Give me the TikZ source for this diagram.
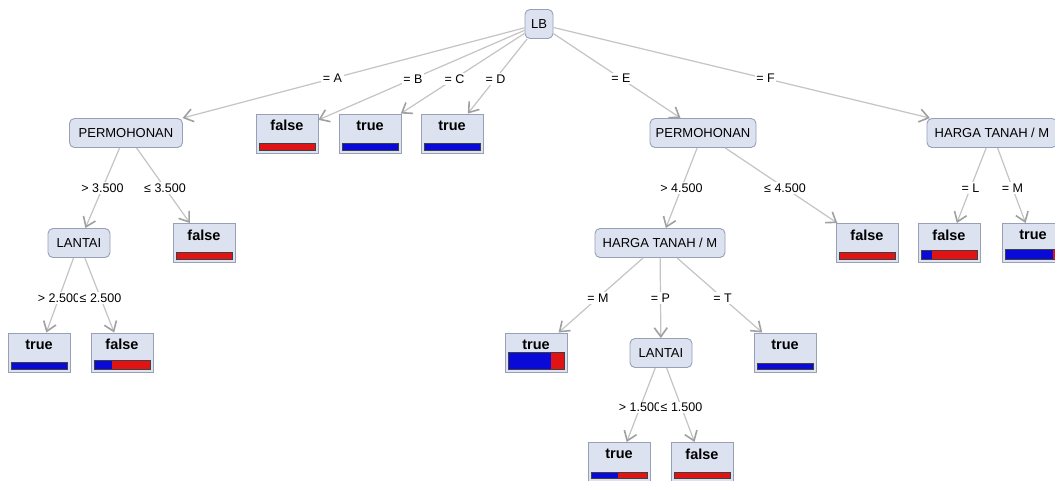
\documentclass[tikz,border=0pt]{standalone}
\usepackage{fontspec}
\setmainfont{Liberation Sans}
\usetikzlibrary{arrows.meta,calc}
\definecolor{nodefill}{HTML}{DDE2F0}
\definecolor{nodeborder}{HTML}{98A0B8}
\definecolor{edgecol}{HTML}{C4C4C4}
\definecolor{arrowcol}{HTML}{A0A0A0}
\definecolor{barblue}{HTML}{0A0AD8}
\definecolor{barred}{HTML}{E01414}
\tikzset{
  inner/.style={draw=nodeborder, fill=nodefill, rounded corners=5pt, line width=0.9pt,
    minimum height=29pt, inner xsep=2pt, font=\fontsize{13}{15}\selectfont},
  leafbox/.style={draw=nodeborder, fill=nodefill, line width=0.9pt,
    minimum width=62pt, minimum height=39pt},
  leaftext/.style={font=\bfseries\fontsize{14.5}{16}\selectfont, inner sep=0pt},
  edge/.style={draw=edgecol, line width=1.2pt,
    -{Straight Barb[length=9pt,width=13pt,line width=1.6pt,color=arrowcol]}},
  elabel/.style={fill=white, inner sep=1.5pt, font=\fontsize{12.5}{14}\selectfont}
}
% name, x, y, text, blue fraction, bar height
\newcommand\leafnode[6]{%
  \node[leafbox] (#1) at (#2,#3) {};
  \node[leaftext] (#1t) at (#2,#3-8) {#4};
  \fill[barblue] (#2-28,#3+16.5-#6) rectangle ({#2-28+56*#5},#3+16.5);
  \fill[barred] ({#2-28+56*#5},#3+16.5-#6) rectangle (#2+28,#3+16.5);
  \draw[black!75, line width=0.7pt] (#2-28,#3+16.5-#6) rectangle (#2+28,#3+16.5);
}
\newcommand\edgelab[3]{\node[elabel] at ($(#1)!0.5!(#2)$) {#3};}
\begin{document}
\begin{tikzpicture}[x=1pt,y=-1pt]
\useasboundingbox (0,0) rectangle (1055,481);
\clip (0,0) rectangle (1055,481);
\fill[white] (0,0) rectangle (1055,481);
% inner nodes
\node[inner, minimum width=28pt] (LB) at (539,24) {LB};
\node[inner, minimum width=113pt] (P1) at (126,133) {PERMOHONAN};
\node[inner, minimum width=106pt] (P2) at (703,133) {PERMOHONAN};
\node[inner, minimum width=130pt] (H3) at (992,133) {HARGA TANAH / M};
\node[inner, minimum width=62pt] (L1) at (79,243) {LANTAI};
\node[inner, minimum width=130pt] (H2) at (660,243) {HARGA TANAH / M};
\node[inner, minimum width=62pt] (L2) at (661,353) {LANTAI};
% leaves
\leafnode{fB}{287}{133.5}{false}{0}{7}
\leafnode{tC}{370}{133.5}{true}{1}{7}
\leafnode{tD}{452}{133.5}{true}{1}{7}
\leafnode{fP1}{204}{243}{false}{0}{7}
\leafnode{tL1}{39}{352.5}{true}{1}{6.7}
\leafnode{fL1}{122}{352.5}{false}{0.32}{8.3}
\leafnode{fP2}{867}{243}{false}{0}{7}
\leafnode{fH3}{949}{243}{false}{0.19}{9}
\leafnode{tH3}{1033}{243}{true}{0.85}{10}
\leafnode{tH2M}{536}{352.5}{true}{0.77}{16.5}
\leafnode{tH2T}{785}{352.5}{true}{1}{6}
\leafnode{tL2}{619}{462}{true}{0.48}{6}
\leafnode{fL2}{702}{462}{false}{0}{6}
% edges
\draw[edge] (LB) -- (P1);
\draw[edge] (LB) -- (fB);
\draw[edge] (LB) -- (tC);
\draw[edge] (LB) -- (tD);
\draw[edge] (LB) -- (P2);
\draw[edge] (LB) -- (H3);
\draw[edge] (P1) -- (L1);
\draw[edge] (P1) -- (fP1);
\draw[edge] (L1) -- (tL1);
\draw[edge] (L1) -- (fL1);
\draw[edge] (P2) -- (H2);
\draw[edge] (P2) -- (fP2);
\draw[edge] (H3) -- (fH3);
\draw[edge] (H3) -- (tH3);
\draw[edge] (H2) -- (tH2M);
\draw[edge] (H2) -- (L2);
\draw[edge] (H2) -- (tH2T);
\draw[edge] (L2) -- (tL2);
\draw[edge] (L2) -- (fL2);
% labels
\edgelab{LB}{P1}{= A}
\edgelab{LB}{fB}{= B}
\edgelab{LB}{tC}{= C}
\edgelab{LB}{tD}{= D}
\edgelab{LB}{P2}{= E}
\edgelab{LB}{H3}{= F}
\edgelab{P1}{L1}{> 3.500}
\edgelab{P1}{fP1}{≤ 3.500}
\edgelab{L1}{tL1}{> 2.500}
\edgelab{L1}{fL1}{≤ 2.500}
\edgelab{P2}{H2}{> 4.500}
\edgelab{P2}{fP2}{≤ 4.500}
\edgelab{H3}{fH3}{= L}
\edgelab{H3}{tH3}{= M}
\edgelab{H2}{tH2M}{= M}
\edgelab{H2}{L2}{= P}
\edgelab{H2}{tH2T}{= T}
\edgelab{L2}{tL2}{> 1.500}
\edgelab{L2}{fL2}{≤ 1.500}
\end{tikzpicture}
\end{document}
